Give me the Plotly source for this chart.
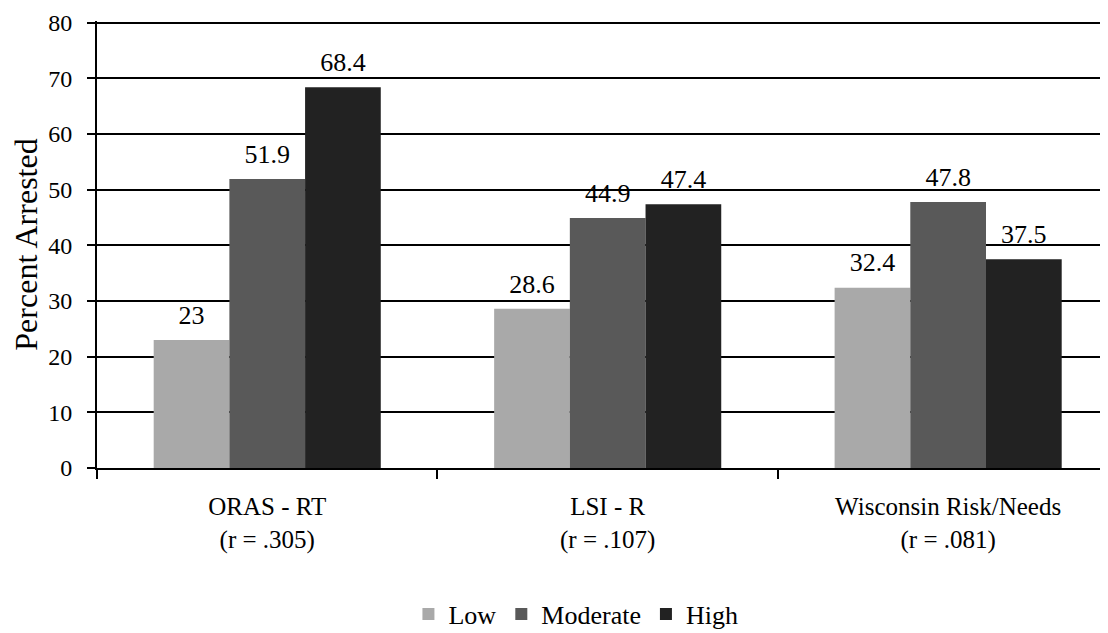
import plotly.graph_objects as go

categories = ["ORAS - RT<br>(r = .305)", "LSI - R<br>(r = .107)", "Wisconsin Risk/Needs<br>(r = .081)"]
low = [23, 28.6, 32.4]
moderate = [51.9, 44.9, 47.8]
high = [68.4, 47.4, 37.5]
series_names = ["Low", "Moderate", "High"]
colors = ["#a9a9a9", "#595959", "#222222"]
y_ticks = [0, 10, 20, 30, 40, 50, 60, 70, 80]

FONT = "Liberation Serif"

fig = go.Figure()
for name, vals, col in zip(series_names, [low, moderate, high], colors):
    fig.add_trace(go.Bar(
        x=categories, y=vals, name=name,
        marker=dict(color=col, line=dict(width=0)),
        offsetgroup=name,
    ))
for name, vals in zip(series_names, [low, moderate, high]):
    fig.add_trace(go.Scatter(
        x=categories, y=vals, mode="markers+text", showlegend=False,
        offsetgroup=name, orientation="v",
        marker=dict(size=14, opacity=0),
        text=[f"{v:g}" for v in vals], textposition="top center",
        textfont=dict(family=FONT, size=26, color="black"),
        cliponaxis=False, hoverinfo="skip",
    ))

fig.update_layout(
    width=1108, height=633,
    margin=dict(l=89, r=0, t=12.5, b=173.3, autoexpand=False),
    paper_bgcolor="white", plot_bgcolor="white",
    barmode="group", bargap=0.333, bargroupgap=0,
    scattermode="group", scattergap=0.333,
    font=dict(family=FONT, size=25, color="black"),
    showlegend=True,
    legend=dict(orientation="h", x=0.47, xanchor="center", y=-0.274, yanchor="top",
                font=dict(family=FONT, size=26, color="black"),
                itemwidth=30, traceorder="normal"),
    xaxis=dict(type="category", range=[-0.5, 2.493], showgrid=False, automargin=False,
               showline=True, linecolor="black", linewidth=2,
               ticks="outside", ticklen=9, tickwidth=2, tickcolor="black",
               tickson="boundaries", ticklabelstandoff=15,
               tickfont=dict(family=FONT, size=25, color="black")),
    yaxis=dict(range=[0, 80.3], tickvals=y_ticks, showgrid=True, gridcolor="black", gridwidth=1.5,
               showline=True, linecolor="black", linewidth=2, automargin=False,
               ticks="outside", ticklen=8, tickwidth=2, tickcolor="black",
               ticklabelstandoff=10, zeroline=False, ticklabeloverflow="allow",
               tickfont=dict(family=FONT, size=24, color="black"),
               title=dict(text="Percent Arrested", font=dict(family=FONT, size=32, color="black"), standoff=14)),
)

fig.write_html("out.html")
